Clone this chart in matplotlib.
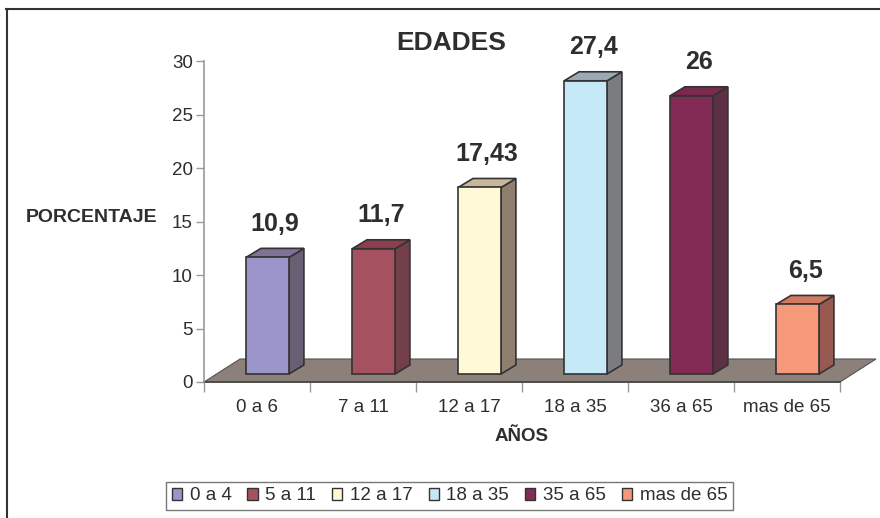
import matplotlib
matplotlib.use("Agg")
import matplotlib.pyplot as plt
from matplotlib.patches import Polygon, Rectangle
from matplotlib.lines import Line2D

plt.rcParams["font.family"] = ["Liberation Sans", "DejaVu Sans"]

# ---------------------------------------------------------------------
# Data
# ---------------------------------------------------------------------
categories = ["0 a 6", "7 a 11", "12 a 17", "18 a 35", "36 a 65", "mas de 65"]
legend_labels = ["0 a 4", "5 a 11", "12 a 17", "18 a 35", "35 a 65", "mas de 65"]
values = [10.9, 11.7, 17.43, 27.4, 26, 6.5]
value_labels = ["10,9", "11,7", "17,43", "27,4", "26", "6,5"]

front_colors = ["#9b94c8", "#a5515f", "#fff9d8", "#c6e9f8", "#812b55", "#f5997a"]
side_colors = ["#6a5e74", "#723f4a", "#8e7f6e", "#7a7c80", "#5c3045", "#985a50"]
top_colors = ["#7f7396", "#8c3f4e", "#c8b89a", "#9baab0", "#7a2a4f", "#d07a62"]

TEXT = "#2e2e2e"
EDGE = "#333333"

# pseudo 3d geometry (data units)
floor_dx, floor_dy = 0.34, 2.15
bar_w = 0.405
bar_shift, bar_base = 0.10, 0.75
depth_dx, depth_dy = 0.14, 0.84

fig = plt.figure(figsize=(8.8, 5.18), dpi=100)
ax = fig.add_axes([204 / 880, (518 - 382) / 518, 636 / 880, 321 / 518])
ax.set_xlim(0, len(categories))
ax.set_ylim(0, 30)

# floor
n = len(categories)
floor = Polygon([(0, 0), (n, 0), (n + floor_dx, floor_dy), (floor_dx, floor_dy)],
                closed=True, facecolor="#8c807b", edgecolor="#555555",
                linewidth=0.8, clip_on=False, zorder=1)
ax.add_patch(floor)

# bars
for i, v in enumerate(values):
    x0 = i + (1 - bar_w) / 2 + bar_shift
    x1 = x0 + bar_w
    b = bar_base
    t = bar_base + v
    side = Polygon([(x1, b), (x1 + depth_dx, b + depth_dy),
                    (x1 + depth_dx, t + depth_dy), (x1, t)],
                   closed=True, facecolor=side_colors[i], edgecolor=EDGE,
                   linewidth=1.2, clip_on=False, zorder=3)
    top = Polygon([(x0, t), (x1, t), (x1 + depth_dx, t + depth_dy),
                   (x0 + depth_dx, t + depth_dy)],
                  closed=True, facecolor=top_colors[i], edgecolor=EDGE,
                  linewidth=1.2, clip_on=False, zorder=3)
    front = Rectangle((x0, b), bar_w, v, facecolor=front_colors[i],
                      edgecolor=EDGE, linewidth=1.2, clip_on=False, zorder=4)
    ax.add_patch(side)
    ax.add_patch(top)
    ax.add_patch(front)
    ax.text(x0 + (bar_w + depth_dx) / 2, t + depth_dy + 1.2, value_labels[i],
            ha="center", va="bottom", fontsize=18, fontweight="bold",
            color=TEXT, clip_on=False, zorder=5)

# axes styling
for s in ["top", "right"]:
    ax.spines[s].set_visible(False)
ax.spines["left"].set_color("#999999")
ax.spines["left"].set_linewidth(1.2)
ax.spines["bottom"].set_color("#444444")
ax.spines["bottom"].set_linewidth(1.2)
ax.spines["bottom"].set_zorder(2)

ax.set_yticks(range(0, 31, 5))
ax.tick_params(axis="y", direction="out", length=6, width=1, color="#999999",
               labelsize=13.5, labelcolor=TEXT, pad=2)
ax.set_xticks(range(0, n + 1))
ax.set_xticklabels([])
ax.set_xticks([i + 0.5 for i in range(n)], minor=True)
ax.set_xticklabels(categories, minor=True)
ax.tick_params(axis="x", which="major", direction="out", length=7, width=1,
               color="#999999")
ax.tick_params(axis="x", which="minor", length=0, labelsize=13.5,
               labelcolor=TEXT, pad=12)
ax.patch.set_visible(False)

ax.set_ylabel("PORCENTAJE", rotation=0, fontsize=14, fontweight="bold",
              color=TEXT, ha="right", va="center")
ax.yaxis.set_label_coords(-0.074, 15.4 / 30)
ax.set_xlabel("AÑOS", fontsize=13.5, fontweight="bold", color=TEXT, labelpad=9)

fig.text(451 / 880, 1 - 43 / 518, "EDADES", ha="center", va="center",
         fontsize=19, fontweight="bold", color=TEXT)

# legend
handles = [Rectangle((0, 0), 1, 1, facecolor=c, edgecolor=EDGE, linewidth=1)
           for c in front_colors]
leg = fig.legend(handles, legend_labels, loc="center",
                 bbox_to_anchor=(449.5 / 880, 1 - 496 / 518), ncol=6,
                 fontsize=13.5, frameon=True, fancybox=False, handlelength=0.55,
                 handleheight=0.55, handletextpad=0.4, columnspacing=0.85,
                 borderpad=0.3, labelcolor=TEXT)
leg.get_frame().set_edgecolor("#555555")
leg.get_frame().set_linewidth(1)

# outer chart frame (top and left edges)
fig.add_artist(Line2D([6 / 880, 1], [1 - 9 / 518, 1 - 9 / 518],
                      transform=fig.transFigure, color="#333333", linewidth=1.5))
fig.add_artist(Line2D([7 / 880, 7 / 880], [0, 1 - 9 / 518],
                      transform=fig.transFigure, color="#333333", linewidth=1.5))

fig.savefig("out.png", dpi=100)
